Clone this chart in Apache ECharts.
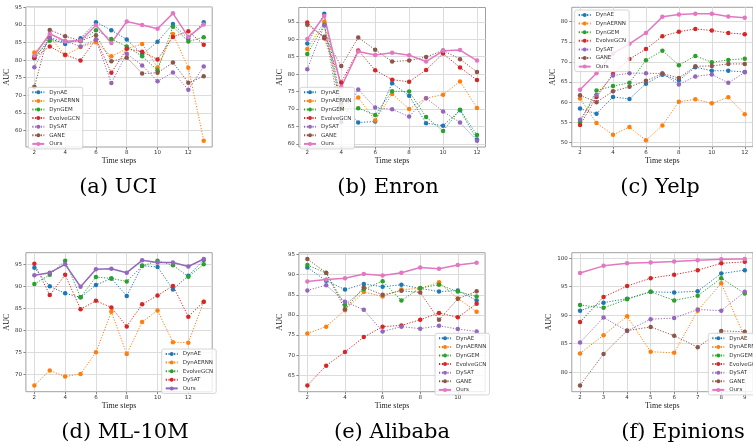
<!DOCTYPE html>
<html>
<head>
<meta charset="utf-8">
<script src="https://cdn.jsdelivr.net/npm/echarts@6/dist/echarts.min.js"></script>
<style>
  html, body { margin: 0; padding: 0; background: #fff; }
  #chart { width: 753px; height: 447px; }
</style>
</head>
<body>
<div id="chart"></div>
<script>
// time steps
const stepsUci = [2, 3, 4, 5, 6, 7, 8, 9, 10, 11, 12, 13];
const stepsEnron = [2, 3, 4, 5, 6, 7, 8, 9, 10, 11, 12];
const stepsYelp = [2, 3, 4, 5, 6, 7, 8, 9, 10, 11, 12];
const stepsMl = [2, 3, 4, 5, 6, 7, 8, 9, 10, 11, 12, 13];
const stepsAli = [2, 3, 4, 5, 6, 7, 8, 9, 10, 11];
const stepsEp = [2, 3, 4, 5, 6, 7, 8, 9];

// (a) UCI
const uciDynAE = [80.5, 86.2, 84.6, 86.2, 90.8, 88.5, 85.9, 81.6, 85.2, 90.3, 86.1, 90.8];
const uciDynAERNN = [82.2, 86.6, 81.4, 83.7, 85.1, 81.1, 83.2, 84.6, 77.9, 87.4, 77.8, 57.1];
const uciDynGEM = [80.9, 85.5, 85.2, 85.4, 88.5, 86.0, 83.9, 81.1, 77.1, 89.5, 85.3, 86.5];
const uciEvolveGCN = [80.7, 83.9, 81.5, 79.9, 85.9, 76.4, 83.2, 82.4, 80.2, 86.6, 88.2, 84.4];
const uciDySAT = [78.0, 86.3, 85.4, 83.9, 85.8, 73.5, 81.8, 78.5, 74.0, 76.5, 71.6, 78.2];
const uciGANE = [72.4, 88.6, 86.8, 85.5, 87.1, 79.7, 80.7, 76.2, 76.4, 79.3, 73.6, 75.4];
const uciOurs = [81.3, 87.5, 85.4, 85.6, 89.9, 84.9, 91.0, 90.0, 88.9, 93.3, 86.6, 90.1];

// (b) Enron
const enronDynAE = [88.8, 97.3, 71.5, 66.1, 66.4, 77.4, 73.8, 65.9, 65.2, 69.6, 61.2];
const enronDynAERNN = [87.2, 95.0, 70.7, 73.3, 66.7, 74.3, 70.0, 73.1, 74.1, 77.9, 70.3];
const enronDynGEM = [85.8, 94.2, 70.0, 70.2, 68.3, 75.1, 75.0, 67.7, 63.7, 69.8, 62.5];
const enronEvolveGCN = [94.8, 90.3, 77.6, 86.8, 81.1, 78.4, 77.8, 81.2, 85.9, 81.9, 78.3];
const enronDySAT = [81.4, 94.0, 66.2, 75.6, 70.4, 69.9, 67.8, 73.1, 69.3, 66.1, 60.9];
const enronGANE = [94.2, 90.7, 82.3, 90.5, 87.0, 83.6, 83.9, 84.9, 86.8, 84.3, 80.6];
const enronOurs = [90.1, 96.7, 76.3, 86.5, 85.5, 86.1, 85.4, 83.6, 86.7, 86.9, 83.9];

// (c) Yelp
const yelpDynAE = [58.4, 57.1, 61.3, 60.8, 64.6, 66.8, 65.4, 68.7, 67.8, 67.8, 67.5];
const yelpDynAERNN = [60.9, 54.8, 51.9, 53.8, 50.5, 54.2, 60.1, 60.7, 59.7, 61.2, 57.0];
const yelpDynGEM = [55.0, 62.9, 64.0, 64.8, 70.4, 72.8, 69.2, 71.5, 69.9, 70.5, 70.8];
const yelpEvolveGCN = [54.3, 61.3, 67.0, 70.7, 73.2, 76.4, 77.5, 78.2, 77.8, 77.2, 76.9];
const yelpDySAT = [55.6, 61.8, 66.6, 67.2, 67.2, 67.1, 64.4, 66.4, 66.9, 64.8, 67.4];
const yelpGANE = [61.7, 60.0, 62.7, 63.8, 65.3, 67.1, 66.0, 68.9, 69.0, 69.5, 69.5];
const yelpOurs = [63.1, 67.2, 72.1, 74.5, 77.2, 81.2, 81.8, 82.0, 82.0, 81.3, 81.0];

// (d) ML-10M
const mlDynAE = [94.2, 90.0, 88.4, 87.5, 90.3, 91.8, 87.8, 94.7, 94.4, 89.3, 92.4, 96.0];
const mlDynAERNN = [67.5, 70.9, 69.5, 70.1, 75.0, 84.2, 74.6, 81.9, 84.5, 77.3, 77.2, 86.5];
const mlEvolveGCN = [90.5, 92.6, 95.8, 87.5, 92.1, 91.8, 91.1, 94.6, 95.8, 94.8, 92.2, 95.0];
const mlDySAT = [95.1, 88.0, 92.6, 84.8, 86.7, 85.2, 80.9, 85.9, 87.9, 90.1, 83.1, 86.5];
const mlOurs = [92.5, 93.1, 95.0, 89.9, 93.9, 94.0, 93.1, 95.9, 95.4, 95.4, 94.5, 96.2];

// (e) Alibaba
const aliDynAE = [91.8, 88.5, 86.3, 87.7, 87.0, 87.5, 86.6, 85.8, 86.1, 83.6];
const aliDynAERNN = [75.4, 77.1, 81.2, 85.7, 84.6, 86.3, 86.6, 88.1, 84.1, 80.8];
const aliDynGEM = [92.4, 90.4, 82.5, 86.4, 88.4, 83.6, 86.7, 87.5, 85.8, 84.6];
const aliEvolveGCN = [62.5, 67.4, 70.8, 74.5, 77.1, 77.4, 78.8, 80.5, 79.4, 82.8];
const aliDySAT = [86.1, 87.4, 83.3, 81.3, 75.9, 77.1, 76.6, 77.3, 76.5, 75.9];
const aliGANE = [93.9, 90.5, 81.4, 86.9, 85.0, 86.0, 85.6, 78.8, 84.0, 85.9];
const aliOurs = [88.3, 88.8, 89.1, 90.2, 89.8, 90.5, 91.8, 91.5, 92.4, 93.0];

// (f) Epinions
const epDynAE = [90.8, 92.2, 92.9, 94.1, 94.0, 94.2, 97.3, 97.9];
const epDynAERNN = [83.3, 86.5, 89.8, 83.6, 83.4, 90.8, 95.6, 86.1];
const epDynGEM = [91.8, 91.3, 92.8, 94.1, 92.6, 93.4, 96.5, 93.8];
const epEvolveGCN = [88.8, 93.2, 95.1, 96.5, 97.1, 97.9, 99.1, 99.35];
const epDySAT = [85.2, 89.6, 87.25, 89.3, 89.5, 91.0, 90.8, 94.1];
const epGANE = [77.7, 83.2, 87.3, 87.95, 86.4, 84.4, 87.25, 87.1];
const epOurs = [97.4, 98.65, 99.1, 99.25, 99.4, 99.65, 99.8, 99.85];

// tick labels
const xTicksEven = [2, 4, 6, 8, 10, 12];
const xTicksAli = [2, 4, 6, 8, 10];
const xTicksEp = [2, 3, 4, 5, 6, 7, 8, 9];
const yTicksUci = [60, 65, 70, 75, 80, 85, 90, 95];
const yTicksEnron = [60, 65, 70, 75, 80, 85, 90, 95];
const yTicksYelp = [50, 55, 60, 65, 70, 75, 80];
const yTicksMl = [70, 75, 80, 85, 90, 95];
const yTicksAli = [65, 70, 75, 80, 85, 90, 95];
const yTicksEp = [80, 85, 90, 95, 100];

const captions = ["(a) UCI", "(b) Enron", "(c) Yelp", "(d) ML-10M", "(e) Alibaba", "(f) Epinions"];

const C = {
  blue: "#1f77b4", orange: "#ff7f0e", green: "#2ca02c", red: "#d62728",
  purple: "#9467bd", brown: "#8c564b", pink: "#e377c2"
};

function seven(a, b, c, d, e, f, g) {
  return [
    {name: "DynAE", data: a, color: C.blue},
    {name: "DynAERNN", data: b, color: C.orange},
    {name: "DynGEM", data: c, color: C.green},
    {name: "EvolveGCN", data: d, color: C.red},
    {name: "DySAT", data: e, color: C.purple},
    {name: "GANE", data: f, color: C.brown},
    {name: "Ours", data: g, color: C.pink, solid: true},
  ];
}

// box = [left, top, right, bottom] in px
const panels = [
  {key: "a", box: [25.9, 7, 212.2, 147], steps: stepsUci, xTicks: xTicksEven, yTicks: yTicksUci,
    leg: [28.3, 87.3], cap: [118, 188], yGap: 9.5,
    lines: seven(uciDynAE, uciDynAERNN, uciDynGEM, uciEvolveGCN, uciDySAT, uciGANE, uciOurs)},
  {key: "b", box: [298.8, 7.5, 485.5, 147], steps: stepsEnron, xTicks: xTicksEven, yTicks: yTicksEnron,
    leg: [300, 87.3], cap: [388, 188], yGap: 9.5,
    lines: seven(enronDynAE, enronDynAERNN, enronDynGEM, enronEvolveGCN, enronDySAT, enronGANE, enronOurs)},
  {key: "c", box: [571.8, 7.3, 758.5, 146.7], steps: stepsYelp, xTicks: xTicksEven, yTicks: yTicksYelp,
    leg: [574.7, 10], cap: [660, 188], yGap: 9,
    lines: seven(yelpDynAE, yelpDynAERNN, yelpDynGEM, yelpEvolveGCN, yelpDySAT, yelpGANE, yelpOurs)},
  {key: "d", box: [25.9, 252.7, 212.2, 391.7], steps: stepsMl, xTicks: xTicksEven, yTicks: yTicksMl,
    leg: [161.7, 349], cap: [125, 433], yGap: 9.5,
    lines: [
      {name: "DynAE", data: mlDynAE, color: C.blue},
      {name: "DynAERNN", data: mlDynAERNN, color: C.orange},
      {name: "EvolveGCN", data: mlEvolveGCN, color: C.green},
      {name: "DySAT", data: mlDySAT, color: C.red},
      {name: "Ours", data: mlOurs, color: C.purple, solid: true},
    ]},
  {key: "e", box: [298.9, 252.7, 485.1, 391.7], steps: stepsAli, xTicks: xTicksAli, yTicks: yTicksAli,
    leg: [435, 333.3], cap: [392, 433], yGap: 9.5,
    lines: seven(aliDynAE, aliDynAERNN, aliDynGEM, aliEvolveGCN, aliDySAT, aliGANE, aliOurs)},
  {key: "f", box: [571.8, 252.7, 758.5, 391.7], steps: stepsEp, xTicks: xTicksEp, yTicks: yTicksEp,
    leg: [708.3, 333.3], cap: [683, 433], yGap: 13,
    lines: seven(epDynAE, epDynAERNN, epDynGEM, epEvolveGCN, epDySAT, epGANE, epOurs)},
];

const grids = [], xAxes = [], yAxes = [], series = [], legends = [], graphics = [];

panels.forEach((p, i) => {
  grids.push({
    left: p.box[0], top: p.box[1],
    width: p.box[2] - p.box[0], height: p.box[3] - p.box[1],
    show: true, borderColor: "#a0a0a0", borderWidth: 1, backgroundColor: "#fff"
  });

  // matplotlib-like 5% margins
  const x0 = p.steps[0], x1 = p.steps[p.steps.length - 1];
  const all = [].concat(...p.lines.map(l => l.data));
  const lo = Math.min(...all), hi = Math.max(...all);
  const xs = (x1 - x0) * 0.05, ys = (hi - lo) * 0.05;

  xAxes.push({
    gridIndex: i, type: "value", min: x0 - xs, max: x1 + xs,
    axisLine: {show: false},
    axisTick: {show: true, customValues: p.xTicks, length: 2.5, lineStyle: {color: "#888"}},
    axisLabel: {customValues: p.xTicks, fontSize: 5.5, margin: 3, color: "#333", fontFamily: "DejaVu Sans"},
    splitLine: {show: true, lineStyle: {color: "#dcdcdc", width: 1}},
    name: "Time steps", nameLocation: "middle", nameGap: 10,
    nameTextStyle: {fontFamily: "Liberation Serif", fontSize: 8, color: "#222"}
  });
  yAxes.push({
    gridIndex: i, type: "value", min: lo - ys, max: hi + ys,
    axisLine: {show: false},
    axisTick: {show: true, customValues: p.yTicks, length: 2.5, lineStyle: {color: "#888"}},
    axisLabel: {customValues: p.yTicks, fontSize: 5.5, margin: 4, color: "#333", fontFamily: "DejaVu Sans"},
    splitLine: {show: true, lineStyle: {color: "#dcdcdc", width: 1}},
    name: "AUC", nameLocation: "middle", nameGap: p.yGap,
    nameTextStyle: {fontFamily: "Liberation Serif", fontSize: 8, color: "#222"}
  });

  p.lines.forEach(l => {
    series.push({
      name: p.key + "|" + l.name, type: "line",
      xAxisIndex: i, yAxisIndex: i,
      data: p.steps.map((s, j) => [s, l.data[j]]),
      symbol: "circle", symbolSize: 4.5,
      itemStyle: {color: l.color},
      lineStyle: {color: l.color, width: l.solid ? 1.5 : 1, type: l.solid ? "solid" : [1.2, 1.6]},
      emphasis: {disabled: true},
      animation: false
    });
  });

  legends.push({
    orient: "vertical", left: p.leg[0], top: p.leg[1],
    data: p.lines.map(l => p.key + "|" + l.name),
    formatter: n => n.split("|")[1],
    itemWidth: 12, itemHeight: 5, itemGap: 2.6,
    textStyle: {fontSize: 5.5, fontFamily: "DejaVu Sans", color: "#333"},
    backgroundColor: "rgba(255,255,255,0.8)", borderColor: "#cccccc", borderWidth: 0.8,
    borderRadius: 2, padding: [2, 3, 2, 3], selectedMode: false
  });

  graphics.push({
    type: "text", x: p.cap[0], y: p.cap[1], z: 10,
    style: {
      text: captions[i], fill: "#000", font: "21px 'DejaVu Serif'",
      align: "center", verticalAlign: "middle"
    }
  });
});

const myChart = echarts.init(document.getElementById("chart"), null, {renderer: "canvas"});
myChart.setOption({
  animation: false,
  backgroundColor: "#fff",
  grid: grids,
  xAxis: xAxes,
  yAxis: yAxes,
  legend: legends,
  series: series,
  graphic: graphics
});
</script>
</body>
</html>
